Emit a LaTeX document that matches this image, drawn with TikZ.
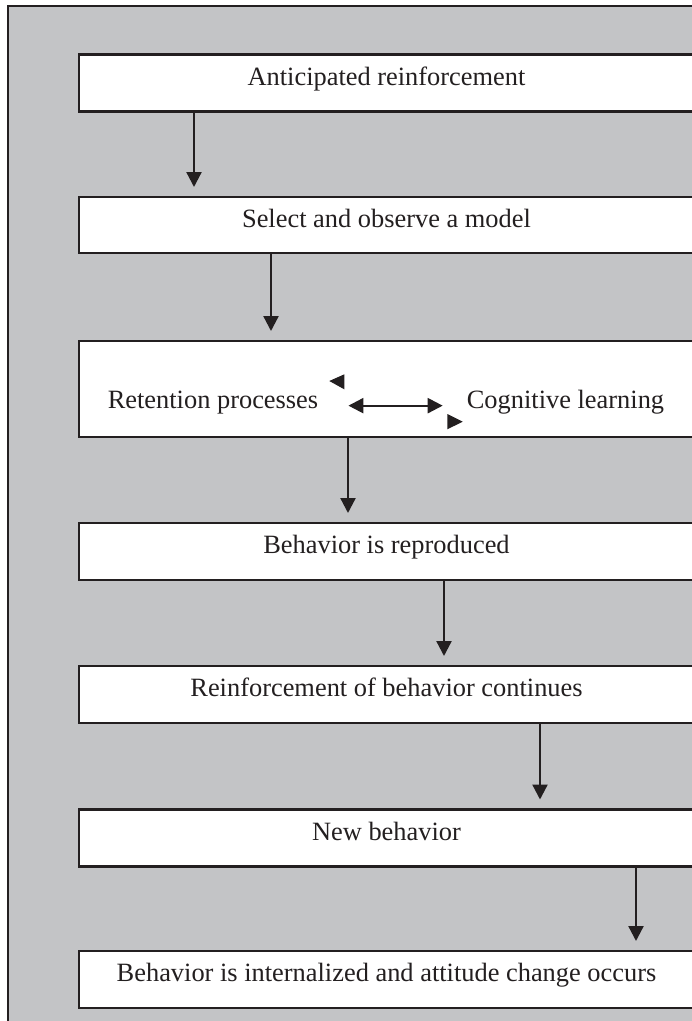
\documentclass[tikz,border=0pt]{standalone}
\usepackage{fontspec}
\setmainfont{Liberation Serif}
\usetikzlibrary{arrows.meta}
\definecolor{panelgray}{RGB}{195,196,198}
\definecolor{ink}{RGB}{35,31,32}

\begin{document}
\begin{tikzpicture}
    [
    x=1pt, y=-1pt,
    font=\fontsize{26.4}{31}\selectfont,
    text=ink,
    stepbox/.style={rectangle,draw=ink,fill=white,line width=2.6pt,outer sep=0pt,inner sep=0pt,
        minimum width=615pt,minimum height=57pt,text height=0.69em,text depth=0.22em},
    phrase/.style={inner sep=0pt,text height=0.69em,text depth=0.22em},
    edge/.style={draw=ink,line width=2.3pt,-{Triangle[width=15pt,length=15pt]},shorten >=10pt},
    twoway/.style={draw=ink,line width=2.3pt,{Triangle[width=15pt,length=15pt]}-{Triangle[width=15pt,length=15pt]}}
    ]
\useasboundingbox (0,0) rectangle (692,1021);
\fill[panelgray] (8,6) rectangle (700,1030);
\draw[ink,line width=2.2pt] (8,1030) -- (8,6) -- (700,6);

\node[stepbox] (antic) at (386.5,83) {Anticipated reinforcement};
\node[stepbox,minimum height=56pt] (select) at (386.5,225) {Select and observe a model};
\node[stepbox,minimum height=96pt] (retain) at (386.5,389) {};
\node[stepbox] (reprod) at (386.5,551.5) {Behavior is reproduced};
\node[stepbox] (reinf) at (386.5,694.5) {Reinforcement of behavior continues};
\node[stepbox] (newbeh) at (386.5,838) {New behavior};
\node[stepbox] (intern) at (386.5,979.5) {Behavior is internalized and attitude change occurs};

\node[phrase,anchor=base] (retproc) at (213,408) {Retention processes};
\node[phrase,anchor=base] (cogn) at (565.5,408) {Cognitive learning};
\draw[twoway,shorten <=30pt,shorten >=24pt] (retproc) -- (cogn);
\fill[ink] (344.3,374.3) -- (329.3,381) -- (344.3,389.3) -- cycle;
\fill[ink] (447.3,414) -- (462.7,421.7) -- (447.3,429.3) -- cycle;

\draw[edge] ([xshift=115pt]antic.south west) -- ([xshift=115pt]select.north west);
\draw[edge] ([xshift=192pt]select.south west) -- ([xshift=192pt]retain.north west);
\draw[edge] ([xshift=269pt]retain.south west) -- ([xshift=269pt]reprod.north west);
\draw[edge] ([xshift=365pt]reprod.south west) -- ([xshift=365pt]reinf.north west);
\draw[edge] ([xshift=461pt]reinf.south west) -- ([xshift=461pt]newbeh.north west);
\draw[edge] ([xshift=557pt]newbeh.south west) -- ([xshift=557pt]intern.north west);
\end{tikzpicture}
\end{document}
